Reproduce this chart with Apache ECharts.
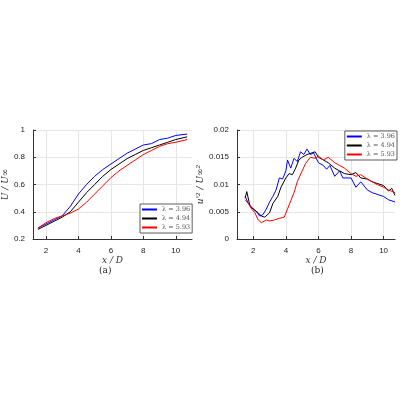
<!DOCTYPE html><html><head><meta charset="utf-8"><script src="https://cdn.jsdelivr.net/npm/echarts@6/dist/echarts.min.js"></script></head><body style="margin:0"><div id="c" style="width:400px;height:400px"></div><script>
const names=['λ = 3.96','λ = 4.94','λ = 5.93'];
const colors=['#0000ff','#000000','#ff0000'];
const xa=[1.5,2,2.5,3,3.5,4,4.5,5,5.5,6,6.5,7,7.5,8,8.5,9,9.5,10,10.7];
const ua=[[0.28,0.31,0.34,0.37,0.44,0.53,0.60,0.66,0.71,0.75,0.79,0.83,0.86,0.89,0.90,0.93,0.94,0.96,0.97],
[0.27,0.30,0.33,0.36,0.40,0.47,0.54,0.60,0.66,0.71,0.75,0.79,0.82,0.85,0.87,0.89,0.91,0.93,0.95],
[0.28,0.32,0.35,0.37,0.39,0.42,0.47,0.53,0.59,0.65,0.70,0.74,0.78,0.82,0.85,0.88,0.90,0.91,0.93]];
const blueX=[1.5,1.7,2,2.2,2.4,2.6,2.8,3,3.2,3.4,3.6,3.8,4,4.1,4.3,4.5,4.7,4.9,5.1,5.3,5.5,5.7,6,6.3,6.5,6.7,7,7.3,7.5,8,8.3,8.6,9,9.3,9.6,10,10.3,10.7];
const blueY=[.0078,.0065,.0055,.005,.0042,.0045,.0055,.0068,.0078,.009,.0112,.011,.0125,.0145,.013,.0148,.0142,.016,.0155,.0165,.0155,.0158,.014,.0135,.0128,.0135,.0115,.0125,.0112,.0112,.0095,.0105,.009,.0085,.0082,.0078,.0072,.0068];
const blackX=[1.5,1.6,1.8,2,2.3,2.5,2.7,3,3.2,3.5,3.7,4,4.2,4.4,4.6,4.8,5,5.3,5.6,5.8,6,6.3,6.6,7,7.3,7.6,8,8.3,8.6,9,9.3,9.6,10,10.3,10.5,10.7];
const blackY=[.0075,.0087,.006,.0055,.0048,.0042,.004,.0048,.0065,.0078,.0095,.0112,.012,.0118,.013,.0145,.015,.0155,.0158,.016,.015,.0145,.014,.013,.0125,.012,.0118,.0122,.0112,.011,.0105,.0102,.0098,.0088,.0093,.008];
const redX=[1.5,1.7,1.9,2.1,2.3,2.5,2.8,3,3.3,3.6,3.9,4.1,4.3,4.5,4.7,5,5.2,5.5,5.8,6,6.3,6.6,7,7.3,7.6,8,8.3,8.6,9,9.3,9.6,10,10.3,10.7];
const redY=[.0072,.0065,.0055,.0048,.0035,.003,.0035,.0033,.0035,.0038,.004,.0055,.007,.0085,.0105,.0125,.0138,.015,.0148,.0152,.0145,.015,.014,.0135,.013,.012,.0115,.0118,.011,.0105,.01,.0095,.009,.0085];
const xTicks=[2,4,6,8,10];
const zip=(x,y)=>x.map((v,i)=>[v,y[i]]);
const serif='DejaVu Serif';
const ax={axisLine:{show:true,lineStyle:{color:'#333'}},axisTick:{show:true,inside:true,length:3,lineStyle:{color:'#333'}},axisLabel:{fontSize:8,color:'#222'},splitLine:{show:true,lineStyle:{color:'#e6e6e6'}}};
function xAx(i,min,max){return Object.assign({},ax,{type:'value',gridIndex:i,min,max,name:'x / D',nameLocation:'middle',nameGap:14,nameTextStyle:{fontFamily:serif,fontStyle:'italic',fontSize:9},
 axisTick:Object.assign({},ax.axisTick,{customValues:xTicks}),axisLabel:Object.assign({},ax.axisLabel,{customValues:xTicks}),splitLine:{show:true,lineStyle:{color:'#e6e6e6'},customValues:xTicks}});}
const ser=[];
[0,1,2].forEach(k=>ser.push({type:'line',name:names[k],xAxisIndex:0,yAxisIndex:0,data:zip(xa,ua[k]),showSymbol:false,lineStyle:{width:1,color:colors[k]},itemStyle:{color:colors[k]}}));
[[blueX,blueY],[blackX,blackY],[redX,redY]].forEach((d,k)=>ser.push({type:'line',name:names[k],xAxisIndex:1,yAxisIndex:1,data:zip(d[0],d[1]),showSymbol:false,lineStyle:{width:1,color:colors[k]},itemStyle:{color:colors[k]}}));
const leg={orient:'vertical',itemWidth:15,itemHeight:2,itemGap:2,padding:[2,2],borderColor:'#333',borderWidth:0.8,backgroundColor:'#fff',textStyle:{fontFamily:serif,fontSize:6.5},icon:'rect',data:names};
echarts.init(document.getElementById('c')).setOption({animation:false,
grid:[{left:28,right:208,top:130,height:109},{left:237,right:5,top:130,height:109}],
xAxis:[xAx(0,1.2,11),xAx(1,1,10.7)],
yAxis:[Object.assign({},ax,{type:'value',gridIndex:0,min:0.2,max:1,interval:0.2,name:'Ū / U∞',nameLocation:'middle',nameGap:19,nameTextStyle:{fontFamily:serif,fontStyle:'italic',fontSize:9}}),
Object.assign({},ax,{type:'value',gridIndex:1,min:0,max:0.02,interval:0.005,name:"u'² / U∞²",nameLocation:'middle',nameGap:30,nameTextStyle:{fontFamily:serif,fontStyle:'italic',fontSize:9}})],
legend:[Object.assign({},leg,{left:140,top:204}),Object.assign({},leg,{right:3,top:131})],
graphic:[{type:'text',left:99,top:266,style:{text:'(a)',font:'9px DejaVu Serif',fill:'#222'}},{type:'text',left:311,top:266,style:{text:'(b)',font:'9px DejaVu Serif',fill:'#222'}}],
series:ser});
</script></body></html>
